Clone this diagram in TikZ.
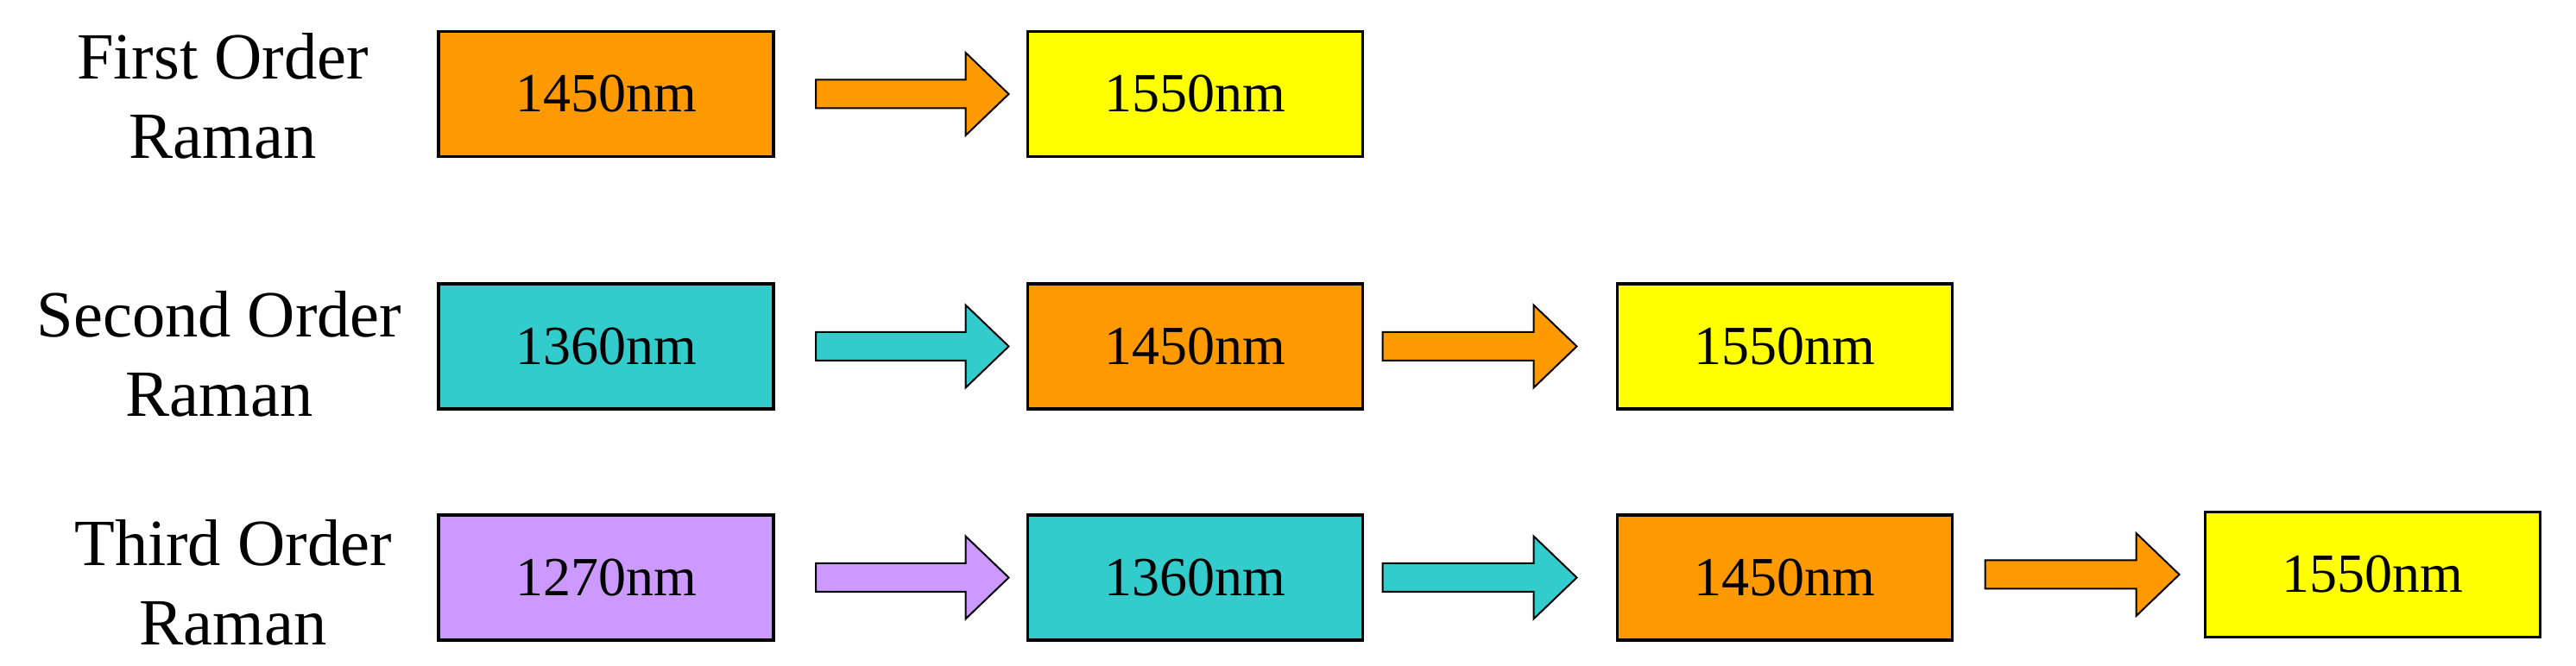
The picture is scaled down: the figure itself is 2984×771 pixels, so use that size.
\documentclass[tikz,border=0pt]{standalone}
\usepackage{fontspec}
\setmainfont{Liberation Serif}
\usetikzlibrary{calc}
\definecolor{cOrange}{RGB}{255,153,0}
\definecolor{cYellow}{RGB}{255,255,0}
\definecolor{cCyan}{RGB}{51,204,204}
\definecolor{cPurple}{RGB}{204,153,255}
\tikzset{
  boxnode/.style={draw=black, line width=3.5pt, minimum width=388pt, minimum height=145pt,
    inner sep=0pt, outer sep=0pt, font=\fontsize{64}{77}\selectfont},
  rowlabel/.style={align=center, inner sep=0pt, font=\fontsize{76.5}{92}\selectfont},
  fatarr/.style={draw=black, line width=2pt, line join=miter}
}
% #1 from node, #2 to node, #3 gap after from, #4 gap before to, #5 colour
\newcommand\fatarrow[5]{%
  \path ($(#1.east)+(#3,0)$) coordinate (fa-s0)
        ($(#2.west)-(#4,0)$) coordinate (fa-t);
  \path (fa-s0 |- fa-t) coordinate (fa-s);
  \draw[fatarr, fill=#5]
    ($(fa-s)+(0,16.5)$) -- ($(fa-t)+(-50,16.5)$) -- ($(fa-t)+(-50,48)$) -- (fa-t)
    -- ($(fa-t)+(-50,-48)$) -- ($(fa-t)+(-50,-16.5)$) -- ($(fa-s)+(0,-16.5)$) -- cycle;
}
\begin{document}
\begin{tikzpicture}[x=1pt,y=1pt]
\useasboundingbox (0,0) rectangle (2984,771);
% row labels
\node[rowlabel] (l1) at (258,660) {First Order\\Raman};
\node[rowlabel] (l2) at (254,360.5) {Second Order\\Raman};
\node[rowlabel] (l3) at (270,96) {Third Order\\Raman};
% row 1
\node[boxnode, fill=cOrange] (a1) at (702,662) {1450nm};
\node[boxnode, fill=cYellow] (a2) at (1384.5,662) {1550nm};
% row 2
\node[boxnode, fill=cCyan]   (b1) at (702,369.5) {1360nm};
\node[boxnode, fill=cOrange] (b2) at (1384.5,369.5) {1450nm};
\node[boxnode, fill=cYellow] (b3) at (2067.5,369.5) {1550nm};
% row 3
\node[boxnode, fill=cPurple] (c1) at (702,101.5) {1270nm};
\node[boxnode, fill=cCyan]   (c2) at (1384.5,101.5) {1360nm};
\node[boxnode, fill=cOrange] (c3) at (2067.5,101.5) {1450nm};
\node[boxnode, fill=cYellow] (c4) at (2748.5,105) {1550nm};
% arrows
\fatarrow{a1}{a2}{49}{22}{cOrange}
\fatarrow{b1}{b2}{49}{22}{cCyan}
\fatarrow{b2}{b3}{23}{47}{cOrange}
\fatarrow{c1}{c2}{49}{22}{cPurple}
\fatarrow{c2}{c3}{23}{47}{cCyan}
\fatarrow{c3}{c4}{38}{30}{cOrange}
\end{tikzpicture}
\end{document}
